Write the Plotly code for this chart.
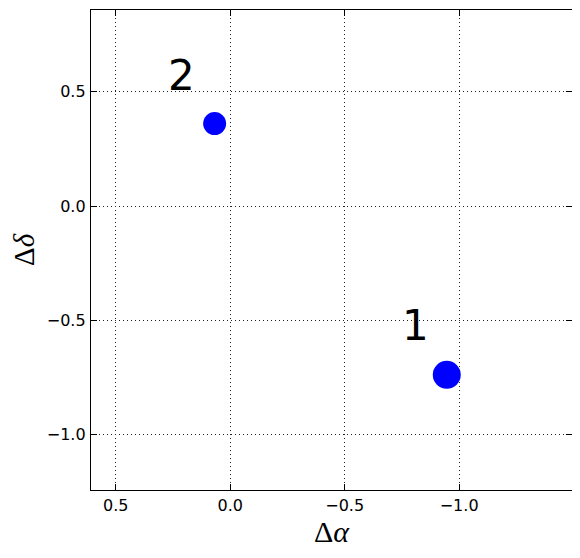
import plotly.graph_objects as go

# source offsets (arcsec)
labels = ["1", "2"]
d_alpha = [-0.946, 0.068]
d_delta = [-0.738, 0.361]
marker_sizes = [28, 23]

# label positions next to each source
label_x = [-0.81, 0.213]
label_y = [-0.523, 0.573]

x_ticks = [0.5, 0.0, -0.5, -1.0]
y_ticks = [0.5, 0.0, -0.5, -1.0]

fig = go.Figure()

fig.add_trace(go.Scatter(
    x=d_alpha, y=d_delta, mode="markers",
    marker=dict(color="#0000ff", size=marker_sizes, opacity=1, line=dict(width=0)),
    showlegend=False, hoverinfo="skip"
))

for lx, ly, t in zip(label_x, label_y, labels):
    fig.add_annotation(x=lx, y=ly, text=t, showarrow=False,
                       xanchor="center", yanchor="middle",
                       font=dict(family="DejaVu Sans", size=42, color="black"))

axis_common = dict(
    showline=True, linecolor="black", linewidth=1.3, mirror="ticks",
    ticks="inside", ticklen=6, tickwidth=1, tickcolor="black",
    showgrid=True, gridcolor="#222", gridwidth=1, griddash="1px,3px",
    zeroline=False, tickfont=dict(family="DejaVu Sans", size=16, color="black"),
    tickformat=".1f", ticklabelstandoff=1, automargin=False,
)

fig.update_xaxes(
    range=[0.608, -1.493], tickvals=x_ticks,
    title=dict(text="Δ<i>α</i>", font=dict(family="Liberation Serif", size=30, color="black"), standoff=4),
    **axis_common
)
fig.update_yaxes(range=[-1.242, 0.858], tickvals=y_ticks, **axis_common)

# y title placed by hand so it sits further from the tick labels
fig.add_annotation(text="Δ<i>δ</i>", xref="paper", yref="paper", x=0, y=0.5,
                   xshift=-67, xanchor="center", yanchor="middle", textangle=-90,
                   showarrow=False, borderpad=0,
                   font=dict(family="Liberation Serif", size=29, color="black"))

# page body adds an 8px offset, so the figure is a bit smaller than the window
fig.update_layout(
    width=572, height=550,
    margin=dict(l=83, r=8, t=2, b=68),
    plot_bgcolor="white", paper_bgcolor="white",
)

fig.write_html("out.html")
